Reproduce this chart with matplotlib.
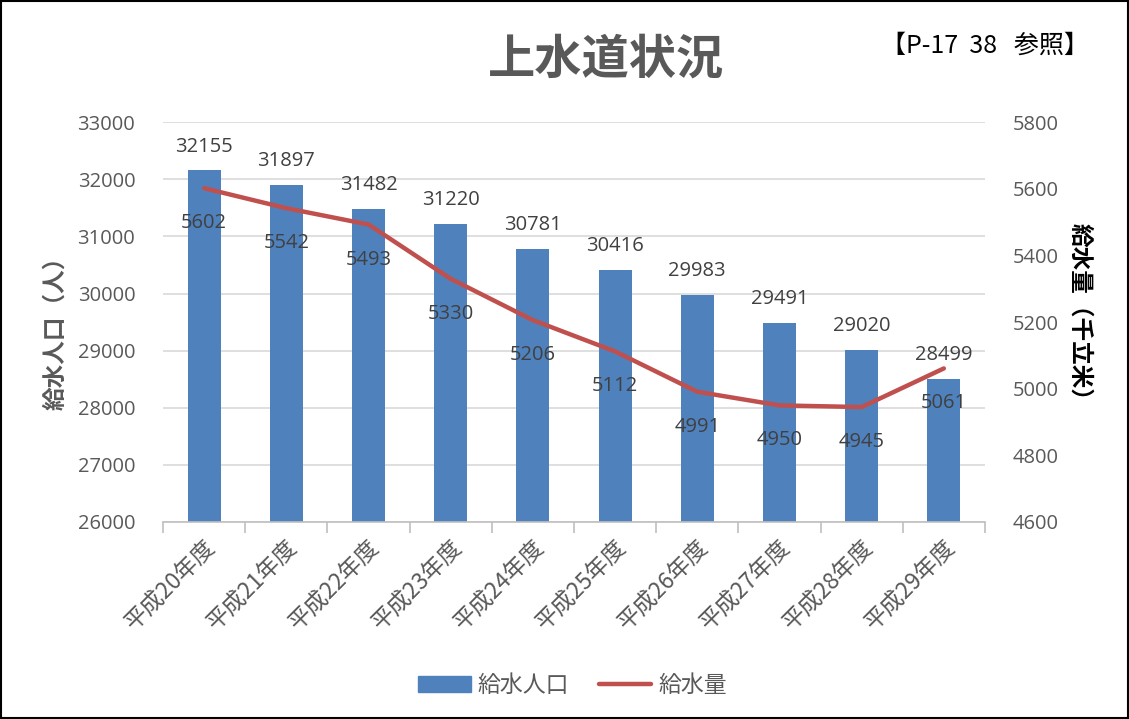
import matplotlib as mpl
import matplotlib.pyplot as plt
from matplotlib.patches import Rectangle
import numpy as np

# データ
years = ["平成20年度", "平成21年度", "平成22年度", "平成23年度", "平成24年度",
         "平成25年度", "平成26年度", "平成27年度", "平成28年度", "平成29年度"]
population = [32155, 31897, 31482, 31220, 30781, 30416, 29983, 29491, 29020, 28499]
water = [5602, 5542, 5493, 5330, 5206, 5112, 4991, 4950, 4945, 5061]

BAR_COLOR = "#4F81BD"
LINE_COLOR = "#C0504D"
TEXT_COLOR = "#595959"
JP = ["Noto Sans CJK JP", "DejaVu Sans"]
NUM = ["Open Sans", "DejaVu Sans"]

mpl.rcParams.update({
    "font.family": ["Open Sans", "Noto Sans CJK JP", "DejaVu Sans"],
    "font.size": 14,
})

fig = plt.figure(figsize=(11.29, 7.19), dpi=100)
ax = fig.add_axes([0.1444, 0.274, 0.728, 0.556])
ax2 = ax.twinx()

x = np.arange(len(years))
ax.bar(x, population, width=0.4, color=BAR_COLOR, zorder=2)
ax.set_ylim(26000, 33000)
ax.set_xlim(-0.5, len(years) - 0.5)
ax.set_yticks(range(26000, 33001, 1000))
ax.yaxis.grid(True, color="#D9D9D9", linewidth=1.2, zorder=0)
ax.set_axisbelow(True)

ax2.plot(x, water, color=LINE_COLOR, linewidth=3.2, solid_capstyle="round", zorder=3)
ax2.set_ylim(4600, 5800)
ax2.set_yticks(range(4600, 5801, 200))

# ラベル
for xi, v in zip(x, population):
    ax.annotate(f"{v}", (xi, v), xytext=(0, 10), textcoords="offset points",
                ha="center", va="bottom", color="#404040", fontsize=14.5, family=NUM)
for xi, v in zip(x, water):
    ax2.annotate(f"{v}", (xi, v), xytext=(0, -18), textcoords="offset points",
                 ha="center", va="top", color="#404040", fontsize=14.5, family=NUM)

for a in (ax, ax2):
    for s in ("top", "left", "right", "bottom"):
        a.spines[s].set_visible(False)
    a.tick_params(axis="y", length=0, labelcolor=TEXT_COLOR, labelsize=14.5, pad=20)

ax.spines["bottom"].set_visible(True)
ax.spines["bottom"].set_color("#BFBFBF")
ax.spines["bottom"].set_linewidth(1.2)
ax.set_xticks(x)
ax.set_xticklabels(years, rotation=45, ha="right", rotation_mode="anchor",
                   color=TEXT_COLOR, fontsize=16.5, family=JP)
ax.tick_params(axis="x", length=0, pad=10)
ax.set_xticks(np.arange(-0.5, len(years)), minor=True)
ax.tick_params(axis="x", which="minor", length=8, color="#BFBFBF", width=1.2)

fig.text(55 / 1129, 0.545, "給水人口（人）", rotation=90, ha="center", va="center",
         fontsize=17, fontweight="bold", color=TEXT_COLOR, family=JP)
fig.text(1080 / 1129, 0.559, "給水量（千立米）", rotation=-90, ha="center", va="center",
         fontsize=17, fontweight="bold", color="black", family=JP)

fig.text(0.537, 0.917, "上水道状況", ha="center", va="center", fontsize=34,
         fontweight="bold", color=TEXT_COLOR, family=JP)
fig.text(0.872, 0.937, "【P-17  38   参照】", ha="center", va="center", fontsize=18,
         color="black", family=JP)

# 凡例
handles = [Rectangle((0, 0), 1, 1, color=BAR_COLOR),
           plt.Line2D([], [], color=LINE_COLOR, linewidth=3.2, solid_capstyle="round")]
fig.legend(handles, ["給水人口", "給水量"], loc="center", bbox_to_anchor=(0.507, 0.047),
           ncol=2, frameon=False, handlelength=2.3, handletextpad=0.3, columnspacing=1.3,
           prop={"family": JP, "size": 16.5}, labelcolor=TEXT_COLOR)

# 枠
fig.patches.append(Rectangle((0.001, 0.001), 0.998, 0.997, transform=fig.transFigure,
                             fill=False, edgecolor="black", linewidth=1.5))

fig.savefig("out.png", dpi=100)
